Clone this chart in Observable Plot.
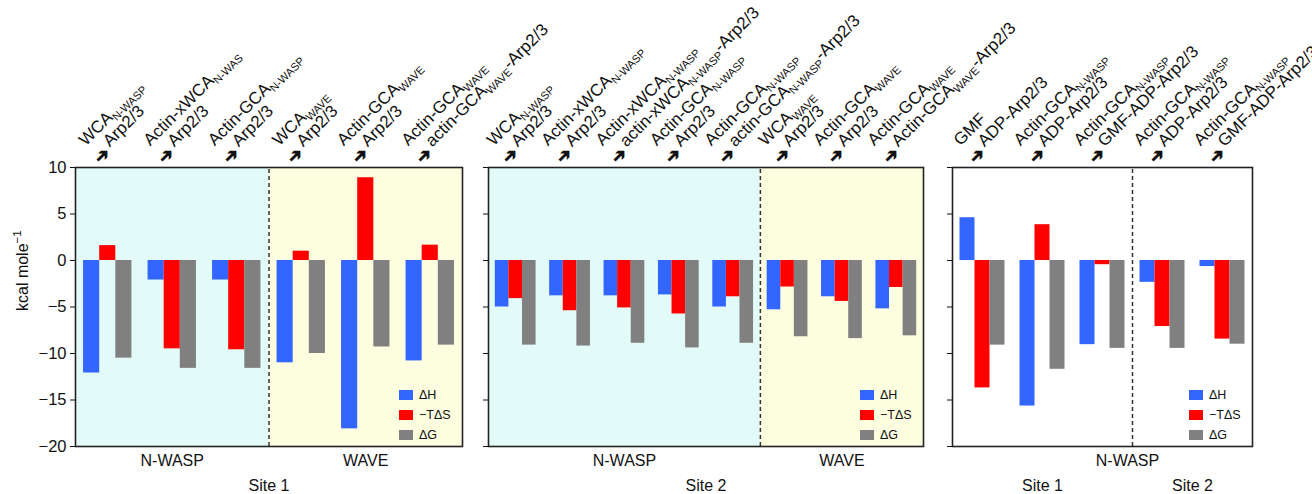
<!DOCTYPE html>
<html><head><meta charset="utf-8">
<script src="https://cdn.jsdelivr.net/npm/d3@7"></script>
<script src="https://cdn.jsdelivr.net/npm/@observablehq/plot@0.6"></script>
<style>
html,body{margin:0;padding:0;background:#fff;}
#root{position:relative;width:1312px;height:494px;overflow:hidden;font-family:"Liberation Sans",Arial,sans-serif;}
#root svg{position:absolute;left:0;top:0;}
.sw{position:absolute;width:14px;height:10px;}
.lt{position:absolute;font-size:12.5px;line-height:14px;color:#111;white-space:nowrap;}
</style></head><body><div id="root"></div>
<script>
// ---- shared ----
const series = ["ΔH", "−TΔS", "ΔG"];
const seriesColors = ["#3366ff", "#ff0000", "#808080"];
const yTicks = [-20, -15, -10, -5, 0, 5, 10];
const yTitle = "kcal mole^{−1}";

// ---- panel 1 (Site 1) ----
const p1Line1 = ["WCA_{N-WASP}", "Actin-xWCA_{N-WAS}", "Actin-GCA_{N-WASP}", "WCA_{WAVE}", "Actin-GCA_{WAVE}", "Actin-GCA_{WAVE}"];
const p1Line2 = ["Arp2/3", "Arp2/3", "Arp2/3", "Arp2/3", "Arp2/3", "actin-GCA_{WAVE}-Arp2/3"];
const p1Family = ["N-WASP", "N-WASP", "N-WASP", "WAVE", "WAVE", "WAVE"];
const p1Site = ["Site 1", "Site 1", "Site 1", "Site 1", "Site 1", "Site 1"];
const p1dH  = [-12.1, -2.1, -2.1, -11.0, -18.1, -10.8];
const p1TdS = [1.6, -9.5, -9.6, 1.0, 8.9, 1.65];
const p1dG  = [-10.5, -11.6, -11.6, -10.0, -9.3, -9.1];

// ---- panel 2 (Site 2) ----
const p2Line1 = ["WCA_{N-WASP}", "Actin-xWCA_{N-WASP}", "Actin-xWCA_{N-WASP}", "Actin-GCA_{N-WASP}", "Actin-GCA_{N-WASP}", "WCA_{WAVE}", "Actin-GCA_{WAVE}", "Actin-GCA_{WAVE}"];
const p2Line2 = ["Arp2/3", "Arp2/3", "actin-xWCA_{N-WASP}-Arp2/3", "Arp2/3", "actin-GCA_{N-WASP}-Arp2/3", "Arp2/3", "Arp2/3", "Actin-GCA_{WAVE}-Arp2/3"];
const p2Family = ["N-WASP", "N-WASP", "N-WASP", "N-WASP", "N-WASP", "WAVE", "WAVE", "WAVE"];
const p2Site = ["Site 2", "Site 2", "Site 2", "Site 2", "Site 2", "Site 2", "Site 2", "Site 2"];
const p2dH  = [-5.0, -3.8, -3.8, -3.7, -5.0, -5.3, -3.9, -5.2];
const p2TdS = [-4.1, -5.4, -5.1, -5.75, -3.9, -2.85, -4.4, -2.9];
const p2dG  = [-9.1, -9.2, -8.9, -9.4, -8.9, -8.2, -8.4, -8.1];

// ---- panel 3 (GMF) ----
const p3Line1 = ["GMF", "Actin-GCA_{N-WASP}", "Actin-GCA_{N-WASP}", "Actin-GCA_{N-WASP}", "Actin-GCA_{N-WASP}"];
const p3Line2 = ["ADP-Arp2/3", "ADP-Arp2/3", "GMF-ADP-Arp2/3", "ADP-Arp2/3", "GMF-ADP-Arp2/3"];
const p3Family = ["N-WASP", "N-WASP", "N-WASP", "N-WASP", "N-WASP"];
const p3Site = ["Site 1", "Site 1", "Site 1", "Site 2", "Site 2"];
const p3dH  = [4.6, -15.65, -9.05, -2.35, -0.65];
const p3TdS = [-13.7, 3.85, -0.45, -7.1, -8.45];
const p3dG  = [-9.1, -11.7, -9.45, -9.45, -9.0];

const shadeColors = {"N-WASP": "#e2fbf8", "WAVE": "#fdfde0"};

const W = 1312, H = 494, TOP = 167, BOTTOM = 446;
const root = document.getElementById("root");
const SVGNS = "http://www.w3.org/2000/svg";

function runs(keys) {
  const out = [];
  keys.forEach((k, i) => {
    if (out.length && out[out.length - 1].key === k) out[out.length - 1].end = i;
    else out.push({key: k, start: i, end: i});
  });
  return out;
}

// markup: _{sub}  ^{sup}  ~{lowered bold glyph}
const SHIFT = {"_": 4, "^": -7, "~": 6};
const SIZE = {"_": "0.65em", "^": "0.72em", "~": "1.05em"};
function richify(svg) {
  const els = [...svg.querySelectorAll("text, tspan")].filter(el => el.children.length === 0 && /[_^~]\{/.test(el.textContent));
  for (const el of els) {
    const s = el.textContent;
    el.textContent = "";
    const re = /([_^~])\{([^}]*)\}/g;
    let last = 0, m, shift = 0;
    const add = (txt, dy, small, bold) => {
      const t = document.createElementNS(SVGNS, "tspan");
      t.textContent = txt;
      if (dy) t.setAttribute("dy", dy);
      if (small) t.setAttribute("font-size", small);
      if (bold) t.setAttribute("font-weight", "bold");
      el.appendChild(t);
    };
    while ((m = re.exec(s))) {
      if (m.index > last) { add(s.slice(last, m.index), -shift); shift = 0; }
      const d = SHIFT[m[1]];
      add(m[2], d - shift, SIZE[m[1]], m[1] === "~");
      shift = d;
      last = re.lastIndex;
    }
    if (last < s.length) add(s.slice(last), -shift);
  }
}

function panel(cfg) {
  const n = cfg.line1.length;
  const vals = [cfg.dH, cfg.TdS, cfg.dG];
  const bars = [];
  for (let i = 0; i < n; i++) for (let j = 0; j < 3; j++) bars.push({i, j, series: series[j], value: vals[j][i]});
  const idx = d3.range(n);
  const slot = d => 4 * d.i + d.j;
  const shade = cfg.shade ? runs(cfg.family) : [];
  const splits = runs(cfg.split).slice(1).map(r => 4 * r.start - 1);
  const row1 = runs(cfg.row1);
  const row2 = runs(cfg.row2);
  const center = r => (4 * r.start - 1 + 4 * (r.end + 1) - 1) / 2;
  const lab = {x: i => 4 * i + 1, y: () => 10, rotate: -45, textAnchor: "start", lineAnchor: "bottom", fontSize: 17, fill: "#111"};

  const marks = [
    Plot.rect(shade, {x1: r => 4 * r.start - 1, x2: r => 4 * (r.end + 1) - 1, y1: () => -20, y2: () => 10, fill: r => shadeColors[r.key]}),
    Plot.rect(bars, {x1: d => slot(d) - 0.5, x2: d => slot(d) + 0.5, y1: () => 0, y2: "value", fill: "series"}),
    Plot.ruleX(splits, {x: d => d, y1: () => -20, y2: () => 10, stroke: "#333", strokeWidth: 1.5, strokeDasharray: "4,3"}),
    Plot.frame({stroke: "#222", strokeWidth: 1.6}),
    Plot.text(idx, {...lab, text: i => cfg.line1[i], dx: -22, dy: -21}),
    Plot.text(idx, {...lab, text: i => "~{➔}\u2009" + cfg.line2[i], dx: -11, dy: -7}),
    Plot.text(row1, {x: center, y: () => -20, text: "key", dy: 14, dx: cfg.row1dx || 0, fontSize: 16, fill: "#111"}),
    Plot.text(row2, {x: center, y: () => -20, text: "key", dy: 39, fontSize: 16, fill: "#111"})
  ];
  if (cfg.title) marks.push(Plot.text([0], {frameAnchor: "left", rotate: -90, text: () => yTitle, dx: -53, dy: 4, fontSize: 16, fill: "#111"}));

  const svg = Plot.plot({
    width: W, height: H,
    marginLeft: cfg.left, marginRight: W - cfg.right, marginTop: TOP, marginBottom: H - BOTTOM,
    style: {background: "transparent", overflow: "visible", fontFamily: "'Liberation Sans', Arial, sans-serif", fontSize: "16.5px", color: "#111"},
    x: {domain: [-1, 4 * n - 1], axis: null},
    y: {domain: [-20, 10], ticks: yTicks, tickSize: 5, tickPadding: 4, label: null,
        tickFormat: cfg.title ? (d => d < 0 ? "−" + Math.abs(d) : String(d)) : (() => "")},
    color: {domain: series, range: seriesColors},
    marks
  });
  richify(svg);
  root.appendChild(svg);

  // legend
  series.forEach((s, j) => {
    const cy = 395 + j * 20;
    const sw = document.createElement("div");
    sw.className = "sw";
    sw.style.left = (cfg.right - 63) + "px";
    sw.style.top = (cy - 5) + "px";
    sw.style.background = seriesColors[j];
    root.appendChild(sw);
    const lt = document.createElement("div");
    lt.className = "lt";
    lt.style.left = (cfg.right - 43) + "px";
    lt.style.top = (cy - 7) + "px";
    lt.textContent = s;
    root.appendChild(lt);
  });
}

panel({line1: p1Line1, line2: p1Line2, family: p1Family, split: p1Family, row1: p1Family, row2: p1Site,
  shade: true, dH: p1dH, TdS: p1TdS, dG: p1dG, left: 75, right: 462, title: true});
panel({line1: p2Line1, line2: p2Line2, family: p2Family, split: p2Family, row1: p2Family, row2: p2Site,
  shade: true, dH: p2dH, TdS: p2TdS, dG: p2dG, left: 488, right: 923});
panel({line1: p3Line1, line2: p3Line2, family: p3Family, split: p3Site, row1: p3Family, row2: p3Site,
  shade: false, dH: p3dH, TdS: p3TdS, dG: p3dG, left: 952, right: 1252, row1dx: 25});
</script></body></html>
